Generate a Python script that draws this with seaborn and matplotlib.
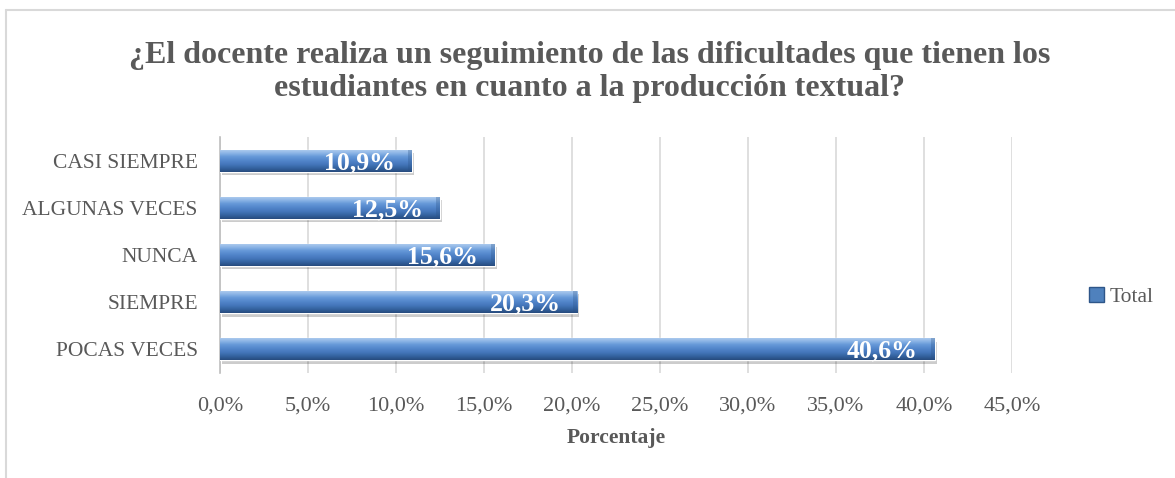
import numpy as np
import pandas as pd
import matplotlib
matplotlib.use("Agg")
import matplotlib.pyplot as plt
import seaborn as sns
from matplotlib.patches import Patch, Rectangle
from matplotlib.lines import Line2D
from matplotlib.colors import LinearSegmentedColormap

categories = ["CASI SIEMPRE", "ALGUNAS VECES", "NUNCA", "SIEMPRE", "POCAS VECES"]
values = [10.9, 12.5, 15.6, 20.3, 40.6]
xticks = [0, 5, 10, 15, 20, 25, 30, 35, 40, 45]
xtick_labels = ["0,0%", "5,0%", "10,0%", "15,0%", "20,0%", "25,0%", "30,0%", "35,0%", "40,0%", "45,0%"]
title = "¿El docente realiza un seguimiento de las dificultades que tienen los\nestudiantes en cuanto a la producción textual?"
series_name = "Total"
xlabel = "Porcentaje"

sns.set_theme(style="white")
plt.rcParams["font.family"] = ["Liberation Serif", "DejaVu Serif"]

df = pd.DataFrame({"cat": categories, "val": values})

W, H = 1175, 478
fig = plt.figure(figsize=(W / 100, H / 100), dpi=100)
ax = fig.add_axes([220 / W, 1 - 373 / H, (1012 - 220) / W, (373 - 137) / H])

sns.barplot(data=df, x="val", y="cat", orient="h", color="#4F81BD", width=0.47,
            ax=ax, saturation=1, zorder=3)

ax.set_xlim(0, 45)
ylim = ax.get_ylim()

cmap = LinearSegmentedColormap.from_list(
    "bev", ["#B4D0F0", "#8DB5E6", "#6598D8", "#5286CB", "#4577BB", "#3463A0", "#274B7E"])
grad = np.linspace(0, 1, 64).reshape(-1, 1)
for p in list(ax.patches):
    x, y, w, h = p.get_x(), p.get_y(), p.get_width(), p.get_height()
    sh = Rectangle((x + 0.12, y + 0.07), w, h, facecolor="#000000", alpha=0.2,
                   edgecolor="none", zorder=2)
    ax.add_patch(sh)
    im = ax.imshow(grad, cmap=cmap, extent=(x, x + w, y + h, y), aspect="auto",
                   origin="upper", zorder=3.5, interpolation="bilinear")
    im.set_clip_path(p)
    bw = 0.22
    ax.add_patch(Rectangle((x + w - bw, y), bw, h, facecolor="#2B5286", alpha=0.3,
                           edgecolor="none", zorder=3.6))

ax.set_ylim(ylim)
ax.set_xlim(0, 45)

for i, v in enumerate(values):
    ax.text(v - 0.95, i + 0.04, f"{v:.1f}%".replace(".", ","), ha="right", va="center",
            color="white", fontsize=18.5, fontweight="bold", zorder=5)

ax.set_xticks(xticks)
ax.set_xticklabels(xtick_labels)
ax.tick_params(axis="x", labelsize=16, colors="#595959", length=0, pad=17)
ax.tick_params(axis="y", labelsize=15.5, colors="#595959", length=0, pad=16)
ax.set_ylabel("")
ax.set_xlabel(xlabel, fontsize=15.5, fontweight="bold", color="#595959", labelpad=9)
ax.grid(axis="x", color="#D9D9D9", linewidth=1.2, zorder=0)
ax.set_axisbelow(True)
for s in ["top", "right", "bottom"]:
    ax.spines[s].set_visible(False)
ax.spines["left"].set_color("#BFBFBF")
ax.spines["left"].set_linewidth(1.2)

fig.text(0.502, 1 - 72 / H, title, ha="center", va="center", fontsize=23,
         fontweight="bold", color="#595959", linespacing=1.2)

leg = fig.legend(handles=[Patch(facecolor="#4F81BD", edgecolor="#2E5689")],
                 labels=[series_name], loc="center left",
                 bbox_to_anchor=(1070 / W, 1 - 297 / H), frameon=False,
                 fontsize=15.5, handlelength=0.7, handleheight=0.7, handletextpad=0.25,
                 labelcolor="#595959")

fig.add_artist(Line2D([6 / W, 1.0], [1 - 10 / H, 1 - 10 / H], color="#D9D9D9", lw=1.5))
fig.add_artist(Line2D([6 / W, 6 / W], [0, 1 - 10 / H], color="#D9D9D9", lw=1.5))

fig.savefig("out.png", dpi=100, facecolor="white")
